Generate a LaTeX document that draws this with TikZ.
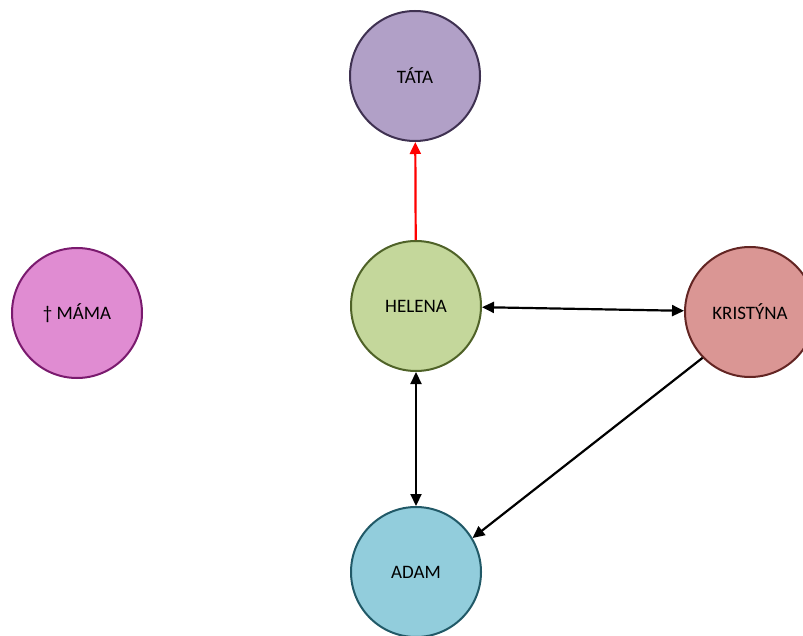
\documentclass[tikz,border=0pt]{standalone}
\usepackage{fontspec}
\setmainfont{Carlito}
\usetikzlibrary{arrows.meta}
\definecolor{tataF}{HTML}{B1A0C7}\definecolor{tataD}{HTML}{3F3151}
\definecolor{helF}{HTML}{C4D79B}\definecolor{helD}{HTML}{4F6228}
\definecolor{mamF}{HTML}{E08CD2}\definecolor{mamD}{HTML}{7A1A6E}
\definecolor{kriF}{HTML}{DA9694}\definecolor{kriD}{HTML}{632523}
\definecolor{adaF}{HTML}{92CDDC}\definecolor{adaD}{HTML}{215967}
\tikzset{
  person/.style={circle, minimum size=130pt, inner sep=0pt, line width=2pt, font=\fontsize{19}{22}\selectfont},
  rel/.style={line width=2.2pt, black, {Triangle[length=12pt,width=11pt]}-{Triangle[length=12pt,width=11pt]}},
  onearrow/.style={line width=2.2pt, -{Triangle[length=12pt,width=11pt]}}
}
\begin{document}
\begin{tikzpicture}[x=1pt,y=-1pt]
\path[use as bounding box] (0,0) rectangle (803,636);
\clip (0,0) rectangle (803,636);
\node[person, fill=tataF, draw=tataD] (tata) at (415,76) {TÁTA};
\node[person, fill=helF, draw=helD] (helena) at (416,306) {HELENA};
\node[person, fill=mamF, draw=mamD] (mama) at (77,313) {† MÁMA};
\node[person, fill=kriF, draw=kriD] (kristyna) at (750,312) {KRISTÝNA};
\node[person, fill=adaF, draw=adaD] (adam) at (416,572) {ADAM};
\draw[onearrow, red] (helena) -- (tata);
\draw[rel] (helena) -- (kristyna);
\draw[rel] (helena) -- (adam);
\draw[onearrow, black] (kristyna.224) -- (adam.31);
\end{tikzpicture}
\end{document}
